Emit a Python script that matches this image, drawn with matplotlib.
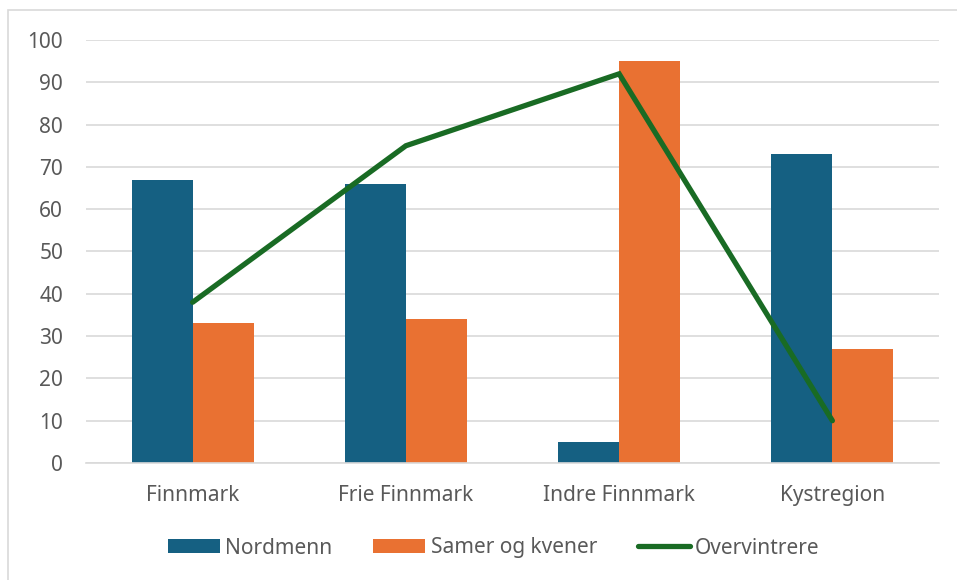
import matplotlib
matplotlib.use("Agg")
import matplotlib.pyplot as plt
import numpy as np
from matplotlib.patches import Rectangle

categories = ["Finnmark", "Frie Finnmark", "Indre Finnmark", "Kystregion"]
nordmenn = [67, 66, 5, 73]
samer = [33, 34, 95, 27]
overvintrere = [38, 75, 92, 10]
yticks = [0, 10, 20, 30, 40, 50, 60, 70, 80, 90, 100]

plt.rcParams['font.family'] = ['Noto Sans', 'DejaVu Sans']

W, H = 957, 580
fig = plt.figure(figsize=(W / 100, H / 100), dpi=100)
fig.patch.set_facecolor("white")

# outer chart border
fig.patches.append(Rectangle((8 / W, -0.05), 1.2, 1 - 10 / H + 0.05,
                             transform=fig.transFigure, fill=False,
                             edgecolor="#d9d9d9", linewidth=1.2))

ax = fig.add_axes([86 / W, 1 - 463 / H, (939 - 86) / W, (463 - 40) / H])
x = np.arange(len(categories))
bw = 0.286
b1 = ax.bar(x - bw / 2, nordmenn, width=bw, color="#156082", label="Nordmenn", zorder=2)
b2 = ax.bar(x + bw / 2, samer, width=bw, color="#E97132", label="Samer og kvener", zorder=2)
l1, = ax.plot(x, overvintrere, color="#196B24", linewidth=3.8, label="Overvintrere",
              solid_capstyle="round", solid_joinstyle="miter", zorder=3)

ax.set_xlim(-0.5, 3.5)
ax.set_ylim(0, 100)
ax.set_yticks(yticks)
ax.set_xticks(x)
ax.set_xticklabels(categories)
ax.yaxis.grid(True, color="#d9d9d9", linewidth=1.2, zorder=0)
ax.set_axisbelow(True)
for s in ["top", "right", "left"]:
    ax.spines[s].set_visible(False)
ax.spines["bottom"].set_color("#d9d9d9")
ax.spines["bottom"].set_linewidth(1.2)
ax.tick_params(axis="both", length=0, labelsize=15, colors="#595959")
ax.tick_params(axis="y", pad=16.5)
ax.tick_params(axis="x", pad=16)

fig.legend(handles=[b1, b2, l1], loc="center", bbox_to_anchor=(0.516, 1 - 548 / H),
           ncol=3, frameon=False, fontsize=15, handlelength=2.5, handleheight=0.67,
           handletextpad=0.25, columnspacing=1.95, labelcolor="#595959")

fig.savefig("out.png", dpi=100, facecolor="white")
